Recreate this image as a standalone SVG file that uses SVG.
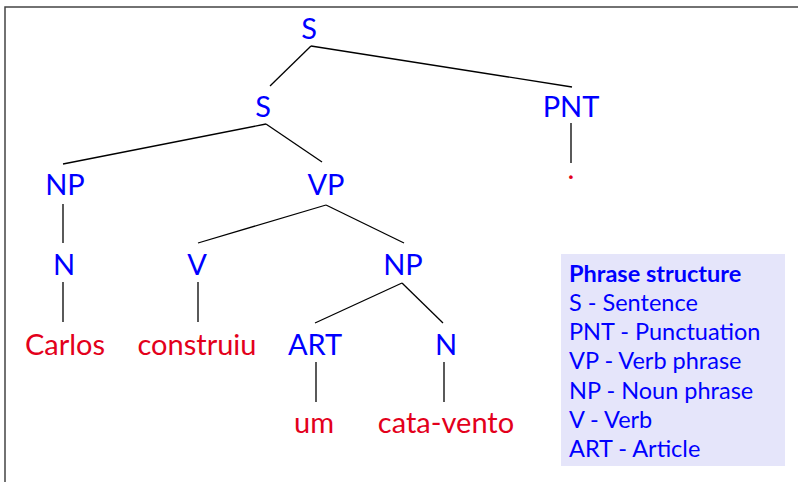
<svg xmlns="http://www.w3.org/2000/svg" width="798" height="482" viewBox="0 0 798 482">
<style>
.t{font-family:Lato,"Liberation Sans",sans-serif;font-size:29px;text-anchor:middle;}
.c{fill:#0000ff;}
.w{fill:#e3001b;}
.lg{font-family:Lato,"Liberation Sans",sans-serif;font-size:23.5px;fill:#0000ff;}
#edges line{stroke:#000;stroke-width:1.3;}
</style>
<rect x="0" y="0" width="798" height="482" fill="#fff"/>
<rect x="5" y="7" width="800" height="480" fill="none" stroke="#444" stroke-width="1.5"/>
<g id="edges">
<line x1="311" y1="46" x2="270" y2="86"/>
<line x1="311" y1="46" x2="572" y2="87"/>
<line x1="571" y1="123" x2="571" y2="163"/>
<line x1="266" y1="124" x2="63" y2="164"/>
<line x1="266" y1="124" x2="322" y2="162"/>
<line x1="63" y1="204" x2="63" y2="243"/>
<line x1="326" y1="205" x2="198" y2="243"/>
<line x1="326" y1="205" x2="404" y2="243"/>
<line x1="63" y1="282" x2="63" y2="322"/>
<line x1="198" y1="282" x2="198" y2="322"/>
<line x1="402" y1="283" x2="315" y2="323"/>
<line x1="402" y1="283" x2="443" y2="323"/>
<line x1="316" y1="362" x2="316" y2="402"/>
<line x1="444" y1="362" x2="444" y2="402"/>
</g>
<g id="n-s-root"><text class="t c" x="309" y="39">S</text></g>
<g id="n-s"><text class="t c" x="263" y="117">S</text></g>
<g id="n-pnt"><text class="t c" x="571" y="117">PNT</text></g>
<g id="n-dot"><text class="t w" x="571" y="179" font-size="31">.</text></g>
<g id="n-np1"><text class="t c" x="65" y="195">NP</text></g>
<g id="n-vp"><text class="t c" x="326" y="195">VP</text></g>
<g id="n-n1"><text class="t c" x="64" y="275">N</text></g>
<g id="n-v"><text class="t c" x="197" y="275">V</text></g>
<g id="n-np2"><text class="t c" x="403" y="275">NP</text></g>
<g id="n-carlos"><text class="t w" x="65" y="355">Carlos</text></g>
<g id="n-construiu"><text class="t w" x="197" y="355">construiu</text></g>
<g id="n-art"><text class="t c" x="315" y="355">ART</text></g>
<g id="n-n2"><text class="t c" x="446" y="355">N</text></g>
<g id="n-um"><text class="t w" x="314" y="433">um</text></g>
<g id="n-catavento"><text class="t w" x="446" y="433">cata-vento</text></g>
<g id="legend">
<rect x="561" y="254" width="224" height="212" fill="#e5e5fa"/>
<text class="lg" x="569" y="282" font-weight="bold">Phrase structure</text>
<text class="lg" x="569" y="311">S - Sentence</text>
<text class="lg" x="569" y="340">PNT - Punctuation</text>
<text class="lg" x="569" y="369">VP - Verb phrase</text>
<text class="lg" x="569" y="399">NP - Noun phrase</text>
<text class="lg" x="569" y="428">V - Verb</text>
<text class="lg" x="569" y="457">ART - Article</text>
</g>
</svg>
